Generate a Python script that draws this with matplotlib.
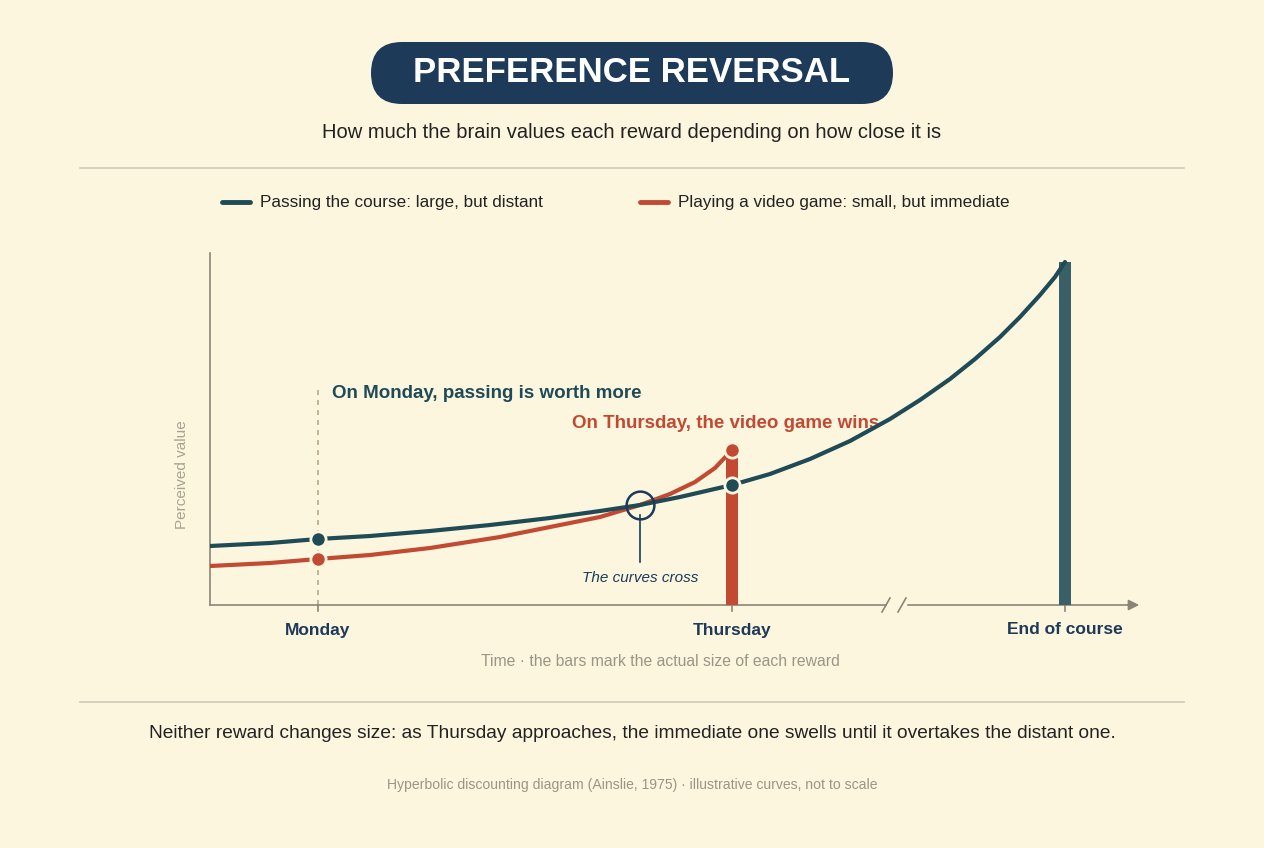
import matplotlib.pyplot as plt
from matplotlib.patches import FancyBboxPatch

BG = '#fcf6df'
TEAL = '#1f4b57'
TEAL_BAR = '#3a5f66'
RED = '#c24a32'
NAVY = '#1d3a58'

# x in "time" units, y in perceived value (arbitrary)
tick_pos = [108, 522, 855]
tick_labels = ['Monday', 'Thursday', 'End of course']
big_x = [0, 60, 108, 160, 220, 280, 340, 390, 430, 470, 522, 560, 600, 640, 680, 710,
         740, 765, 790, 810, 830, 845, 855]
big_y = [59, 62, 66, 69, 74, 80, 87, 94, 100, 108, 120, 131, 146, 164, 186, 205,
         226, 246, 268, 288, 310, 328, 343]
small_x = [0, 60, 108, 160, 220, 290, 340, 390, 430, 460, 485, 505, 522]
small_y = [39, 42, 46, 50, 57, 68, 78, 88, 100, 111, 123, 137, 155]
big_size = 343
small_size = 155
monday_big, monday_small = 66, 46
thursday_big, thursday_small = 120, 155
cross = (430, 100)

W, H = 1264, 848
fig = plt.figure(figsize=(W / 100, H / 100), dpi=100, facecolor=BG)
plt.rcParams['font.family'] = ['Liberation Sans', 'DejaVu Sans']

def fx(px): return px / W
def fy(py): return 1 - py / H

# title pill (display coords = pixels at dpi 100)
pill = FancyBboxPatch((371, H - 104), 522, 62, boxstyle='round,pad=0,rounding_size=31',
                      transform=None, facecolor=NAVY, edgecolor='none')
fig.patches.append(pill)
fig.text(fx(632), fy(73), 'PREFERENCE REVERSAL', ha='center', va='center',
         color='white', fontsize=25, fontweight='bold')
fig.text(fx(632), fy(132), 'How much the brain values each reward depending on how close it is',
         ha='center', va='center', fontsize=14.5, color='#222222')
for y in (168, 702):
    fig.add_artist(plt.Line2D([fx(80), fx(1184)], [fy(y), fy(y)], color='#cfcab5', lw=1.2))

# legend
fig.add_artist(plt.Line2D([fx(222), fx(250)], [fy(202)] * 2, color=TEAL, lw=3.5, solid_capstyle='round'))
fig.text(fx(260), fy(202), 'Passing the course: large, but distant', va='center', fontsize=12.3, color='#222222')
fig.add_artist(plt.Line2D([fx(640), fx(668)], [fy(202)] * 2, color=RED, lw=3.5, solid_capstyle='round'))
fig.text(fx(678), fy(202), 'Playing a video game: small, but immediate', va='center', fontsize=12.3, color='#222222')

ax = fig.add_axes([fx(210), fy(605), fx(1140) - fx(210), fy(250) - fy(605)])
ax.set_facecolor('none')
ax.set_xlim(0, 930)
ax.set_ylim(0, 355)
for s in ax.spines.values():
    s.set_visible(False)
ax.set_xticks([])
ax.set_yticks([])

axc = '#8a8676'
ax.plot([0, 0], [0, 352], color=axc, lw=1.2, clip_on=False)
ax.plot([0, 676], [0, 0], color=axc, lw=1.2, clip_on=False)
ax.plot([698, 920], [0, 0], color=axc, lw=1.2, clip_on=False)
ax.annotate('', xy=(932, 0), xytext=(915, 0),
            arrowprops=dict(arrowstyle='-|>', color=axc, lw=1.2, mutation_scale=16), annotation_clip=False)
for bx in (676, 692):
    ax.plot([bx - 4, bx + 4], [-7, 7], color=axc, lw=1.2, clip_on=False)
for t in tick_pos:
    ax.plot([t, t], [0, -6], color=axc, lw=1.2, clip_on=False)
for t, lab in zip(tick_pos, tick_labels):
    ax.text(t, -25, lab, ha='center', va='center', fontsize=12.5, fontweight='bold', color=NAVY)
ax.text(-28, 130, 'Perceived value', rotation=90, ha='center', va='center', fontsize=11, color='#a7a392')
fig.text(fx(660), fy(662), 'Time · the bars mark the actual size of each reward',
         ha='center', va='center', fontsize=11.3, color='#9a9685')

# Monday dashed guide
ax.plot([108, 108], [0, 218], color='#b8a88a', lw=1.2, ls=(0, (3, 3)), zorder=1)

# bars
ax.bar(tick_pos[1], small_size, width=12, color=RED, zorder=2)
ax.bar(tick_pos[2], big_size, width=12, color=TEAL_BAR, zorder=2)

ax.plot(small_x, small_y, color=RED, lw=3, zorder=3, solid_capstyle='round', solid_joinstyle='round')
ax.plot(big_x, big_y, color=TEAL, lw=3, zorder=4, solid_capstyle='round', solid_joinstyle='round')

for x, y, c in [(108, monday_big, TEAL), (108, monday_small, RED),
                (522, thursday_big, TEAL), (522, thursday_small, RED)]:
    ax.plot(x, y, 'o', ms=11, color=c, mec=BG, mew=2, zorder=6, clip_on=False)
ax.plot(*cross, 'o', ms=20, mfc='none', mec=NAVY, mew=1.8, zorder=7)
ax.plot([cross[0], cross[0]], [cross[1] - 10, 43], color=NAVY, lw=1.2, zorder=5)
ax.text(cross[0], 27, 'The curves cross', ha='center', va='center', fontsize=11,
        style='italic', color=NAVY)

ax.text(122, 212, 'On Monday, passing is worth more', fontsize=13.5, fontweight='bold', color=TEAL, va='center')
ax.text(669, 182, 'On Thursday, the video game wins', fontsize=13.5, fontweight='bold', color=RED,
        va='center', ha='right')

fig.text(fx(632), fy(733), 'Neither reward changes size: as Thursday approaches, the immediate one swells until it overtakes the distant one.',
         ha='center', va='center', fontsize=13.8, color='#222222')
fig.text(fx(632), fy(785), 'Hyperbolic discounting diagram (Ainslie, 1975) · illustrative curves, not to scale',
         ha='center', va='center', fontsize=10.1, color='#9a9685')

fig.savefig('out.png', dpi=100, facecolor=BG)
